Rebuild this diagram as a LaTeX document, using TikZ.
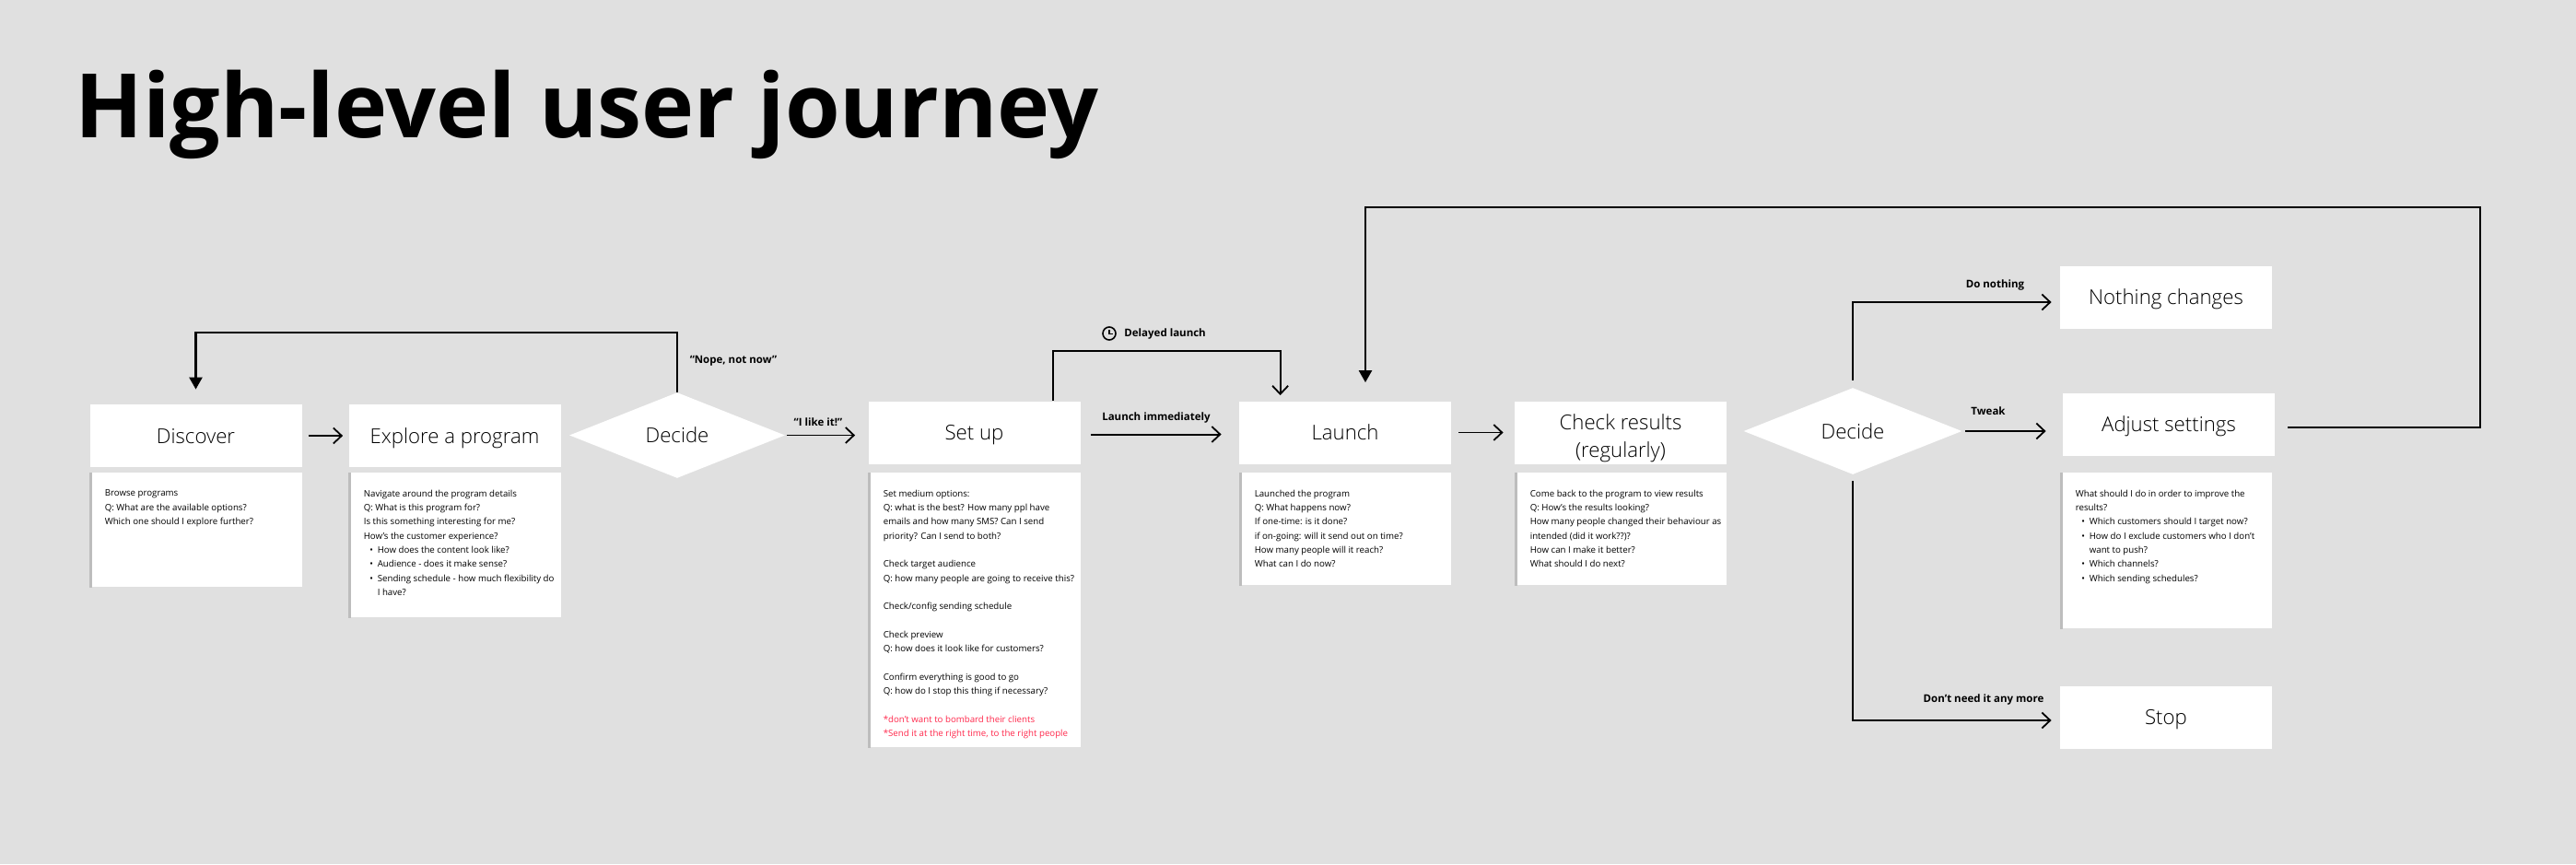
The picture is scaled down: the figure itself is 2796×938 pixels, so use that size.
\documentclass[tikz,border=0pt]{standalone}
\usepackage{fontspec}
\setmainfont{Open Sans}
\newfontfamily\oslight{Open Sans Light}
\usetikzlibrary{arrows.meta,shapes.geometric}
\definecolor{bg}{HTML}{E0E0E0}
\definecolor{barc}{HTML}{BDBDBD}
\definecolor{redtxt}{HTML}{FF2A4D}
\definecolor{ink}{HTML}{000000}
\tikzset{
  headbox/.style={fill=white,inner sep=0pt,minimum width=115pt,minimum height=34pt,align=center,text=ink,
    text height=10pt,text depth=2pt,font=\oslight\fontsize{11.1}{15}\selectfont},
  decision/.style={diamond,fill=white,inner sep=0pt,aspect=2.5,text=ink,text height=10pt,text depth=2pt,font=\oslight\fontsize{11.1}{15}\selectfont},
  cardbox/.style={fill=white,inner sep=0pt,anchor=north west},
  cardtext/.style={inner sep=0pt,anchor=north west,align=left,text=ink,font=\fontsize{4.85}{7.65}\selectfont},
  barfill/.style={fill=barc,draw=none},
  lbl/.style={inner sep=0pt,text=ink,font=\bfseries\fontsize{5.75}{7}\selectfont},
  flow/.style={draw=black,line width=1pt,-{Straight Barb[length=4.5pt,width=8.5pt,line width=0.9pt]}},
  thinflow/.style={flow,line width=0.9pt},
  feedback/.style={draw=black,line width=1.2pt,-{Triangle[length=6.5pt,width=7pt]}},
}
\newcommand{\card}[6]{%
  \node[cardbox,minimum width=#4*0.5pt,minimum height=#5*0.5pt] (#1) at (#2,#3) {};
  \fill[barfill] (#1.north west) rectangle ([xshift=1.5pt]#1.south west);
  \node[cardtext] (#1text) at ([xshift=8.2pt,yshift=-9.3pt]#1.north west) {#6};
}
\newcommand{\blt}{\hspace*{3.3pt}\makebox[4.2pt][l]{\textbullet}}
\newcommand{\bltc}{\hspace*{7.5pt}}
\begin{document}
\begin{tikzpicture}[x=0.5pt,y=-0.5pt]
\useasboundingbox[fill=bg] (0,0) rectangle (2796,938);
\node[inner sep=0pt,anchor=base west,text=black,font=\bfseries\fontsize{48.3}{60}\selectfont] (title) at (81,149) {High-level user journey};

\node[headbox] (discover) at (212.5,473) {Discover};
\node[headbox] (explore) at (493.5,473) {Explore a program};
\node[decision,minimum width=117pt,minimum height=46.5pt] (decideA) at (735,472.5) {Decide};
\node[headbox] (setup) at (1057.5,469.5) {Set up};
\node[headbox] (launch) at (1460,469.5) {Launch};
\node[fill=white,inner sep=0pt,minimum width=115pt,minimum height=34pt] (check) at (1759,469.5) {};
\node[inner sep=0pt,align=center,text=ink,font=\oslight\fontsize{11.1}{15}\selectfont] (checkText) at (1759,475.5) {Check results\\(regularly)};
\node[decision,minimum width=118.5pt,minimum height=47pt] (decideB) at (2011,468) {Decide};
\node[headbox] (nothing) at (2351,322.5) {Nothing changes};
\node[headbox] (adjust) at (2354,460.5) {Adjust settings};
\node[headbox] (stop) at (2351,778.5) {Stop};

\card{cDiscover}{97}{513}{231}{124}{Browse programs\\Q: What are the available options?\\Which one should I explore further?}
\card{cExplore}{378}{513}{231}{157}{Navigate around the program details\\Q: What is this program for?\\Is this something interesting for me?\\How’s the customer experience?\\\blt How does the content look like?\\\blt Audience - does it make sense?\\\blt Sending schedule - how much flexibility do\\\bltc I have?}
\card{cSetup}{942}{513}{231}{298}{Set medium options:\\Q: what is the best? How many ppl have\\emails and how many SMS? Can I send\\priority? Can I send to both?\\[7.65pt]Check target audience\\Q: how many people are going to receive this?\\[7.65pt]Check/config sending schedule\\[7.65pt]Check preview\\Q: how does it look like for customers?\\[7.65pt]Confirm everything is good to go\\Q: how do I stop this thing if necessary?\\[7.65pt]\textcolor{redtxt}{*don’t want to bombard their clients}\\\textcolor{redtxt}{*Send it at the right time, to the right people}}
\card{cLaunch}{1345}{513}{230}{122}{Launched the program\\Q: What happens now?\\If one-time: is it done?\\if on-going: will it send out on time?\\How many people will it reach?\\What can I do now?}
\card{cCheck}{1644}{513}{230}{122}{Come back to the program to view results\\Q: How’s the results looking?\\How many people changed their behaviour as\\intended (did it work??)?\\How can I make it better?\\What should I do next?}
\card{cAdjust}{2236}{513}{230}{169}{What should I do in order to improve the\\results?\\\blt Which customers should I target now?\\\blt How do I exclude customers who I don’t\\\bltc want to push?\\\blt Which channels?\\\blt Which sending schedules?}

\coordinate (nopeTop) at (500,361);
\coordinate (delayTop) at (1260,381);
\coordinate (fbTop) at (2100,225);
\coordinate (fbRight) at (2692,464);
\coordinate (branchTop) at (2100,328);
\coordinate (branchBot) at (2100,782);

\draw[thinflow] ([xshift=3.5pt]discover.east) -- ([xshift=-3pt]explore.west);
\draw[feedback] (decideA.north) |- (nopeTop) -| ([yshift=8pt]discover.north);
\draw[thinflow] ([xshift=1pt]decideA.east) -- ([xshift=-7pt]setup.west |- decideA.east);
\draw[flow] ([xshift=5.5pt,yshift=-1pt]setup.east) -- ([xshift=-9.5pt,yshift=-1pt]launch.west);
\draw[flow] ([xshift=42.5pt]setup.north) |- (delayTop) -| ([xshift=-35.2pt,yshift=3pt]launch.north);
\draw[thinflow] ([xshift=4pt]launch.east) -- ([xshift=-6pt]check.west);
\draw[flow] ([yshift=4pt]decideB.north) |- (branchTop) -- ([xshift=-4.5pt]nothing.west |- branchTop);
\draw[flow] ([yshift=-3.5pt]decideB.south) |- (branchBot) -- ([xshift=-4.5pt]stop.west |- branchBot);
\draw[thinflow] ([xshift=1.5pt]decideB.east) -- ([xshift=-9pt]adjust.west |- decideB.east);
\draw[feedback] ([xshift=7pt,yshift=-1.75pt]adjust.east) -| (fbRight) |- (fbTop) -| ([xshift=11pt,yshift=10pt]launch.north);

\node[lbl] (nope) at (796,391.5) {“Nope, not now”};
\node[lbl] (like) at (888,458) {“I like it!”};
\node[lbl] (imm) at (1255,454) {Launch immediately};
\node[lbl,anchor=west] (delayed) at (1220,363) {Delayed launch};
\draw[line width=0.8pt,draw=ink] (1204,362) circle (3.5pt);
\draw[line width=0.7pt,draw=ink] (1204,358) -- (1204,362.5) -- (1208,362.5);
\node[lbl] (tweak) at (2158,446) {Tweak};
\node[lbl] (nothingL) at (2165.5,310) {Do nothing};
\node[lbl] (dont) at (2153,760) {Don’t need it any more};
\end{tikzpicture}
\end{document}
